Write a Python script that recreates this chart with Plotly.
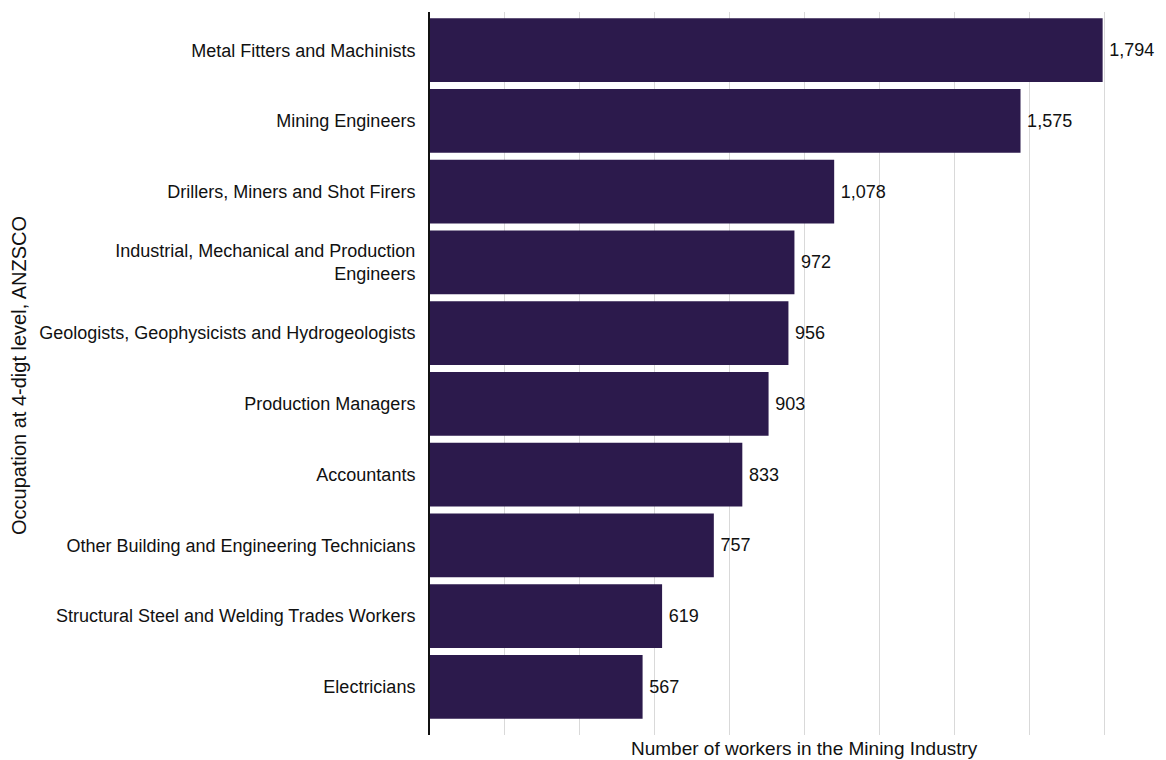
import plotly.graph_objects as go

occupations = [
    "Metal Fitters and Machinists",
    "Mining Engineers",
    "Drillers, Miners and Shot Firers",
    "Industrial, Mechanical and Production<br>Engineers",
    "Geologists, Geophysicists and Hydrogeologists",
    "Production Managers",
    "Accountants",
    "Other Building and Engineering Technicians",
    "Structural Steel and Welding Trades Workers",
    "Electricians",
]
workers = [1794, 1575, 1078, 972, 956, 903, 833, 757, 619, 567]

FONT = "Liberation Sans, Arial, sans-serif"
BAR_COLOR = "#2c1a4c"
TEXT_COLOR = "#111111"

fig = go.Figure(
    go.Bar(
        x=workers,
        y=occupations,
        orientation="h",
        marker=dict(color=BAR_COLOR, line=dict(width=0)),
        text=["\u2009" + f"{v:,}" for v in workers],
        textposition="outside",
        textfont=dict(family=FONT, size=18, color=TEXT_COLOR),
        cliponaxis=False,
        width=0.9,
    )
)

fig.update_layout(
    width=1166,
    height=760,
    margin=dict(l=430, r=0, t=12, b=25),
    paper_bgcolor="white",
    plot_bgcolor="white",
    showlegend=False,
    font=dict(family=FONT, size=18, color=TEXT_COLOR),
    xaxis=dict(
        range=[0, 1963],
        dtick=200,
        tick0=0,
        showticklabels=False,
        showgrid=True,
        gridcolor="#d9d9d9",
        gridwidth=1,
        zeroline=False,
        showline=False,
        ticks="",
    ),
    yaxis=dict(
        categoryorder="array",
        categoryarray=occupations,
        range=[9.68, -0.54],
        showgrid=False,
        zeroline=False,
        showline=True,
        linecolor=TEXT_COLOR,
        linewidth=2,
        ticks="",
        ticklabelstandoff=9,
        tickfont=dict(family=FONT, size=18, color=TEXT_COLOR),
    ),
    annotations=[
        dict(
            text="Number of workers in the Mining Industry",
            xref="paper", yref="paper",
            x=(804 - 430) / 736, y=0,
            xanchor="center", yanchor="top", yshift=-1,
            showarrow=False,
            font=dict(family=FONT, size=19, color=TEXT_COLOR),
        ),
        dict(
            text="Occupation at 4-digt level, ANZSCO",
            xref="paper", yref="paper",
            x=-(430 - 19) / 736, y=(735 - 376) / 723,
            xanchor="center", yanchor="middle",
            textangle=-90,
            showarrow=False,
            font=dict(family=FONT, size=20, color=TEXT_COLOR),
        ),
    ],
)

fig.write_html("out.html")
